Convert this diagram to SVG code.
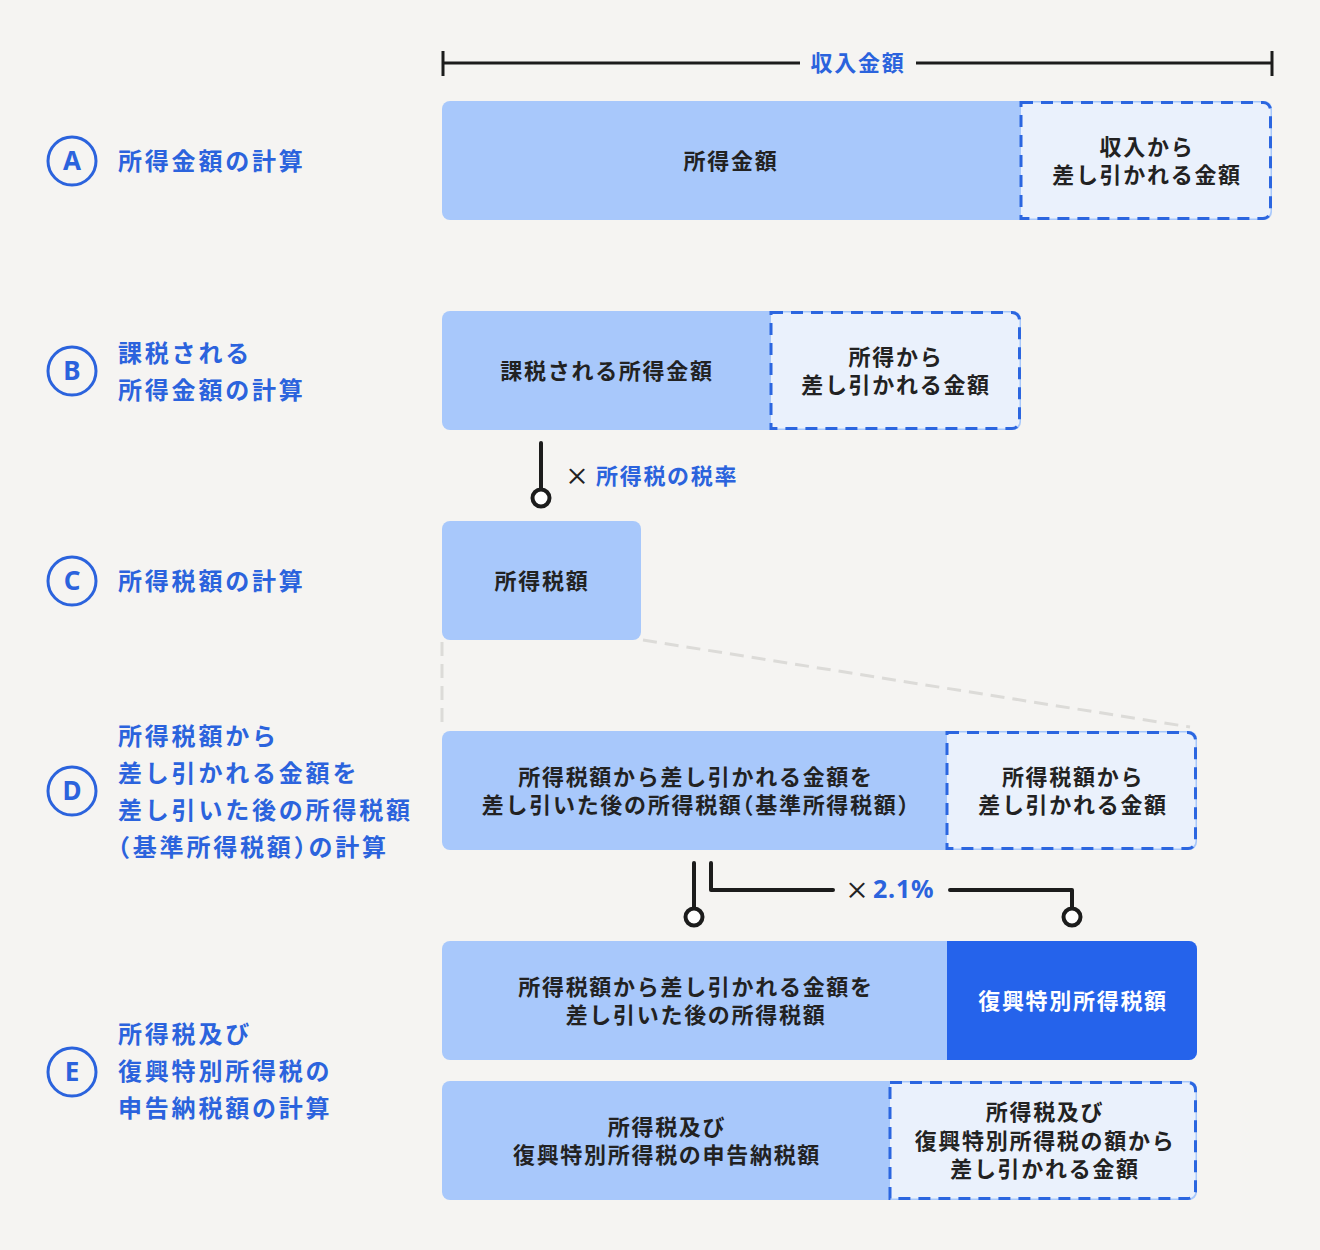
<svg xmlns="http://www.w3.org/2000/svg" width="1320" height="1250" viewBox="0 0 1320 1250">
<defs>
<style>
.bg{fill:#f5f4f2}
.lb{fill:#a8c8fb}
.dz{fill:#eaf1fc;stroke:#2b66e0;stroke-width:3;stroke-dasharray:12 8}
.dk{fill:#2563eb}
.t{font-family:"Noto Sans CJK JP","Noto Sans",sans-serif;font-weight:700;font-size:22px;letter-spacing:1.7px;fill:#222;text-anchor:middle;dominant-baseline:central}
.tw{fill:#fff}
.lab{font-family:"Noto Sans CJK JP","Noto Sans",sans-serif;font-weight:700;font-size:24px;letter-spacing:2.8px;fill:#2b63dd;dominant-baseline:central}
.blue{font-family:"Noto Sans CJK JP","Noto Sans",sans-serif;font-weight:700;font-size:22px;letter-spacing:1.7px;fill:#2b63dd;dominant-baseline:central}
.mul{font-family:"Noto Sans CJK JP","Noto Sans",sans-serif;font-weight:500;font-size:24px;fill:#222;dominant-baseline:central;text-anchor:middle}
.circ{fill:none;stroke:#2b63dd;stroke-width:3}
.let{font-family:"Noto Sans","Liberation Sans",sans-serif;font-weight:700;font-size:26px;fill:#2b63dd;text-anchor:middle;dominant-baseline:central}
.con{fill:none;stroke:#1c1c1c;stroke-width:4;stroke-linecap:round;stroke-linejoin:round}
.ring{fill:#fff;stroke:#1c1c1c;stroke-width:4}
.gd{fill:none;stroke:#dcdbd8;stroke-width:3;stroke-dasharray:14 8}
.h{font-feature-settings:"halt" 1}
</style>
</defs>
<rect class="bg" x="0" y="0" width="1320" height="1250"/>

<g id="header">
<path class="con" d="M443 51V76M1272 51V76M443 63H800M916 63H1272" style="stroke-width:3;stroke-linecap:butt"/>
<text class="blue" x="858" y="61" text-anchor="middle">収入金額</text>
</g>

<g id="label-A">
<circle class="circ" cx="72" cy="161" r="24"/>
<text class="let" x="72" y="160">A</text>
<text class="lab" x="118" y="159">所得金額の計算</text>
</g>
<g id="label-B">
<circle class="circ" cx="72" cy="371" r="24"/>
<text class="let" x="72" y="370">B</text>
<text class="lab" x="118" y="351">課税される</text>
<text class="lab" x="118" y="388">所得金額の計算</text>
</g>
<g id="label-C">
<circle class="circ" cx="72" cy="581" r="24"/>
<text class="let" x="72" y="580">C</text>
<text class="lab" x="118" y="579">所得税額の計算</text>
</g>
<g id="label-D">
<circle class="circ" cx="72" cy="791" r="24"/>
<text class="let" x="72" y="790">D</text>
<text class="lab" x="118" y="734">所得税額から</text>
<text class="lab" x="118" y="771">差し引かれる金額を</text>
<text class="lab" x="118" y="808">差し引いた後の所得税額</text>
<text class="lab" x="118" y="845"><tspan class="h">（</tspan>基準所得税額<tspan class="h">）</tspan>の計算</text>
</g>
<g id="label-E">
<circle class="circ" cx="72" cy="1072" r="24"/>
<text class="let" x="72" y="1071">E</text>
<text class="lab" x="118" y="1032">所得税及び</text>
<text class="lab" x="118" y="1069">復興特別所得税の</text>
<text class="lab" x="118" y="1106">申告納税額の計算</text>
</g>

<g id="connectors">
<path class="gd" d="M442 642V728M643 640L1190 727"/>
<path class="con" d="M541 443V489"/>
<circle class="ring" cx="541" cy="498" r="8.5"/>
<text class="mul" x="577" y="474">×</text>
<text class="blue" x="596" y="474">所得税の税率</text>
<path class="con" d="M694 863V908"/>
<circle class="ring" cx="694" cy="917" r="8.5"/>
<path class="con" d="M711 863V890H833M950 890H1072V908"/>
<circle class="ring" cx="1072" cy="917" r="8.5"/>
<text class="mul" x="857" y="888">×</text>
<text class="blue" x="873" y="888" style="font-family:'Noto Sans','Liberation Sans',sans-serif;font-size:25px;letter-spacing:0.8px">2.1%</text>
</g>

<g id="node-A">
<rect class="lb" x="442" y="101" width="830" height="119" rx="8"/>
<path class="dz" d="M1021 102.5H1263A7.5 7.5 0 0 1 1270.5 110V211A7.5 7.5 0 0 1 1263 218.5H1021Z"/>
<text class="t" x="731" y="159">所得金額</text>
<text class="t" x="1147" y="145">収入から</text>
<text class="t" x="1147" y="173">差し引かれる金額</text>
</g>

<g id="node-B">
<rect class="lb" x="442" y="311" width="579" height="119" rx="8"/>
<path class="dz" d="M771 312.5H1012A7.5 7.5 0 0 1 1019.5 320V421A7.5 7.5 0 0 1 1012 428.5H771Z"/>
<text class="t" x="607" y="369">課税される所得金額</text>
<text class="t" x="896" y="355">所得から</text>
<text class="t" x="896" y="383">差し引かれる金額</text>
</g>

<g id="node-C">
<rect class="lb" x="442" y="521" width="199" height="119" rx="8"/>
<text class="t" x="542" y="579">所得税額</text>
</g>

<g id="node-D">
<rect class="lb" x="442" y="731" width="755" height="119" rx="8"/>
<path class="dz" d="M947 732.5H1188A7.5 7.5 0 0 1 1195.5 740V841A7.5 7.5 0 0 1 1188 848.5H947Z"/>
<text class="t" x="696" y="775">所得税額から差し引かれる金額を</text>
<text class="t" x="696" y="803">差し引いた後の所得税額<tspan class="h">（</tspan>基準所得税額<tspan class="h">）</tspan></text>
<text class="t" x="1073" y="775">所得税額から</text>
<text class="t" x="1073" y="803">差し引かれる金額</text>
</g>

<g id="node-E1">
<rect class="lb" x="442" y="941" width="755" height="119" rx="8"/>
<path class="dk" d="M947 941H1189A8 8 0 0 1 1197 949V1052A8 8 0 0 1 1189 1060H947Z"/>
<text class="t" x="696" y="985">所得税額から差し引かれる金額を</text>
<text class="t" x="696" y="1013">差し引いた後の所得税額</text>
<text class="t tw" x="1073" y="999">復興特別所得税額</text>
</g>

<g id="node-E2">
<rect class="lb" x="442" y="1081" width="755" height="119" rx="8"/>
<path class="dz" d="M890 1082.5H1188A7.5 7.5 0 0 1 1195.5 1090V1191A7.5 7.5 0 0 1 1188 1198.5H890Z"/>
<text class="t" x="667" y="1125">所得税及び</text>
<text class="t" x="667" y="1153">復興特別所得税の申告納税額</text>
<text class="t" x="1045" y="1110">所得税及び</text>
<text class="t" x="1045" y="1139">復興特別所得税の額から</text>
<text class="t" x="1045" y="1167">差し引かれる金額</text>
</g>
</svg>
